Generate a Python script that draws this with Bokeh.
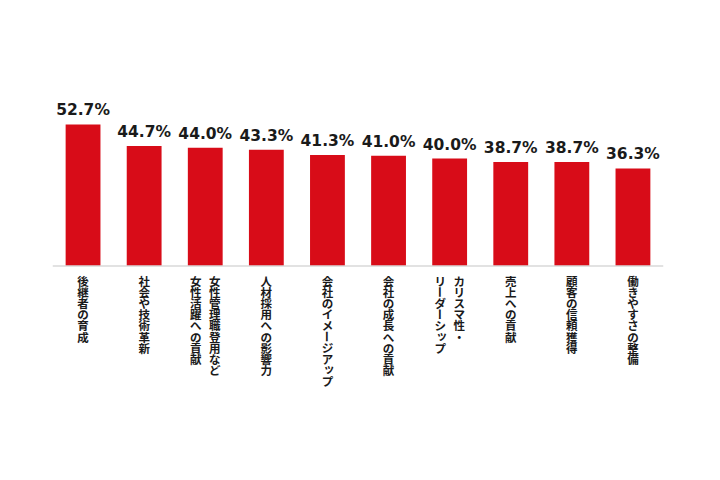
import math
from bokeh.plotting import figure
from bokeh.models import Range1d, ColumnDataSource, Span
from bokeh.core.properties import value
from bokeh.embed import file_html
from bokeh.resources import INLINE

categories = [
    "後継者の育成",
    "社会や技術革新",
    "女性管理職登用など\n女性活躍への貢献",
    "人材採用への影響力",
    "会社のイメージアップ",
    "会社の成長への貢献",
    "カリスマ性・\nリーダーシップ",
    "売上への貢献",
    "顧客の信頼獲得",
    "働きやすさの整備",
]
values = [52.7, 44.7, 44.0, 43.3, 41.3, 41.0, 40.0, 38.7, 38.7, 36.3]
value_labels = ["52.7%", "44.7%", "44.0%", "43.3%", "41.3%", "41.0%", "40.0%", "38.7%", "38.7%", "36.3%"]

BAR_COLOR = "#D80C18"
TEXT_COLOR = "#1A1A1A"

W, H = 704, 464
BL, BR = 52, 41
PX_PER_UNIT = 2.686          # pixels per percentage point
BASE_PX = 265.5              # baseline position from top of figure
y_top = BASE_PX / PX_PER_UNIT
y_bot = -(H - BASE_PX) / PX_PER_UNIT

p = figure(width=W, height=H, output_backend="svg", toolbar_location=None,
           x_range=Range1d(-0.5, 9.5), y_range=Range1d(y_bot, y_top),
           x_axis_location=None, y_axis_location=None,
           min_border_left=BL, min_border_right=BR,
           min_border_top=0, min_border_bottom=0)
p.outline_line_color = None
p.xgrid.visible = False
p.ygrid.visible = False
p.background_fill_color = "white"
p.border_fill_color = "white"

xs = list(range(len(values)))
src = ColumnDataSource(dict(x=xs, top=values, lab=value_labels,
                            ly=[v + 14 / PX_PER_UNIT for v in values]))

p.vbar(x="x", top="top", bottom=0, width=0.57, source=src,
       fill_color=BAR_COLOR, line_color=None)

p.add_layout(Span(location=0, dimension="width", line_color="#D9D9D9", line_width=1.5))

p.text(x="x", y="ly", text="lab", source=src, text_align="center",
       text_baseline="alphabetic", text_font=value("DejaVu Sans"),
       text_font_style="bold", text_font_size="15.5px", text_color=TEXT_COLOR)

# vertical (tategaki) category labels, one glyph per character
SMALL = set("ッャュョァィゥェォっゃゅょぁぃぅぇぉ")
slot_px = (W - BL - BR) / len(values)
col_dx = 9.5 / slot_px
step = 11.1 / PX_PER_UNIT
first = -15.0 / PX_PER_UNIT
cx, cy, ct, ca = [], [], [], []
for i, cat in enumerate(categories):
    lines = cat.split("\n")
    n = len(lines)
    for j, line in enumerate(lines):
        x0 = i + ((n - 1) / 2 - j) * 2 * col_dx / max(n - 1, 1) if n > 1 else i
        for k, ch in enumerate(line):
            xx = x0
            yy = first - k * step
            ang = 0.0
            if ch in "ー－":
                ang = -math.pi / 2
            if ch in SMALL:
                xx += 1.5 / slot_px
                yy += 1.5 / PX_PER_UNIT
            cx.append(xx); cy.append(yy); ct.append(ch); ca.append(ang)

csrc = ColumnDataSource(dict(x=cx, y=cy, t=ct, a=ca))
p.text(x="x", y="y", text="t", angle="a", source=csrc, text_align="center",
       text_baseline="middle", text_font=value("Noto Sans CJK JP"),
       text_font_style="bold", text_font_size="11.5px", text_color=TEXT_COLOR)

open("out.html", "w").write(file_html(p, INLINE))
